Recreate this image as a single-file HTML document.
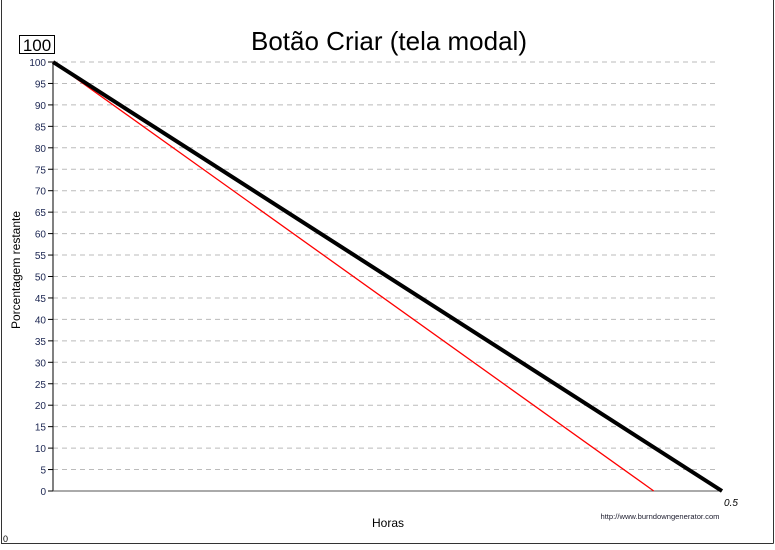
<!DOCTYPE html>
<html><head><meta charset="utf-8"><style>
body{margin:0;background:#fff;}
svg text{font-family:"Liberation Sans",sans-serif;}
</style></head><body>
<svg width="775" height="545">
<line x1="1.5" y1="0" x2="1.5" y2="543.5" stroke="#333"/>
<line x1="1" y1="543.5" x2="773.5" y2="543.5" stroke="#333"/>
<line x1="773.5" y1="0" x2="773.5" y2="543.5" stroke="#333"/>
<text x="389" y="50" font-size="26" text-anchor="middle">Botão Criar (tela modal)</text>
<rect x="19.5" y="35.5" width="35" height="18" fill="none" stroke="#000"/>
<text x="37" y="51" font-size="17" text-anchor="middle">100</text>
<text x="20" y="270" font-size="12" text-anchor="middle" transform="rotate(-90 20 270)">Porcentagem restante</text>
<text x="388" y="527" font-size="12" text-anchor="middle">Horas</text>
<text x="660" y="519" font-size="7.6" text-anchor="middle" fill="#223">http://www.burndowngenerator.com</text>
<text x="3" y="542" font-size="9">0</text>
<text x="731" y="506" font-size="10" font-style="italic" font-family="Liberation Serif" text-anchor="middle">0.5</text>
<g id="grid"></g>
<g id="marks"></g>
</svg>
<script>
const yTicks=[0,5,10,15,20,25,30,35,40,45,50,55,60,65,70,75,80,85,90,95,100];
const xMax=0.5;
const idealX=[0,0.5];
const idealY=[100,0];
const actualX=[0,0.449];
const actualY=[100,0];
const X0=53,X1=722,Y0=491,Y1=62;
const sx=v=>X0+(X1-X0)*v/xMax;
const sy=v=>Y0-(Y0-Y1)*v/100;
const NS="http://www.w3.org/2000/svg";
const g=document.getElementById('grid'),m=document.getElementById('marks');
function mk(tag,attrs,parent){const e=document.createElementNS(NS,tag);for(const k in attrs)e.setAttribute(k,attrs[k]);parent.appendChild(e);return e;}
yTicks.forEach(t=>{
  const y=sy(t);
  if(t>0){const l=mk('line',{x1:X0,x2:718,y1:y,y2:y,stroke:'#bbb','stroke-dasharray':'5,4'},g);
  
  }
  const tk=mk('line',{x1:X0-5,x2:X0,y1:y,y2:y,stroke:'#000'},g);
  
  
  const tx=mk('text',{x:X0-7,y:y+4,'font-size':'10','text-anchor':'end',fill:'#1a2450'},g);
  tx.textContent=t;
  
  
});
const ya=mk('line',{x1:X0,x2:X0,y1:Y1,y2:Y0,stroke:'#000'},g);


const xa=mk('line',{x1:X0,x2:X1,y1:Y0,y2:Y0,stroke:'#555'},g);


const a=mk('polyline',{points:actualX.map((v,i)=>sx(v)+','+sy(actualY[i])).join(' '),fill:'none',stroke:'#f00','stroke-width':'1.3'},m);


const b=mk('polyline',{points:idealX.map((v,i)=>sx(v)+','+sy(idealY[i])).join(' '),fill:'none',stroke:'#000','stroke-width':'4'},m);


</script>
</body></html>
